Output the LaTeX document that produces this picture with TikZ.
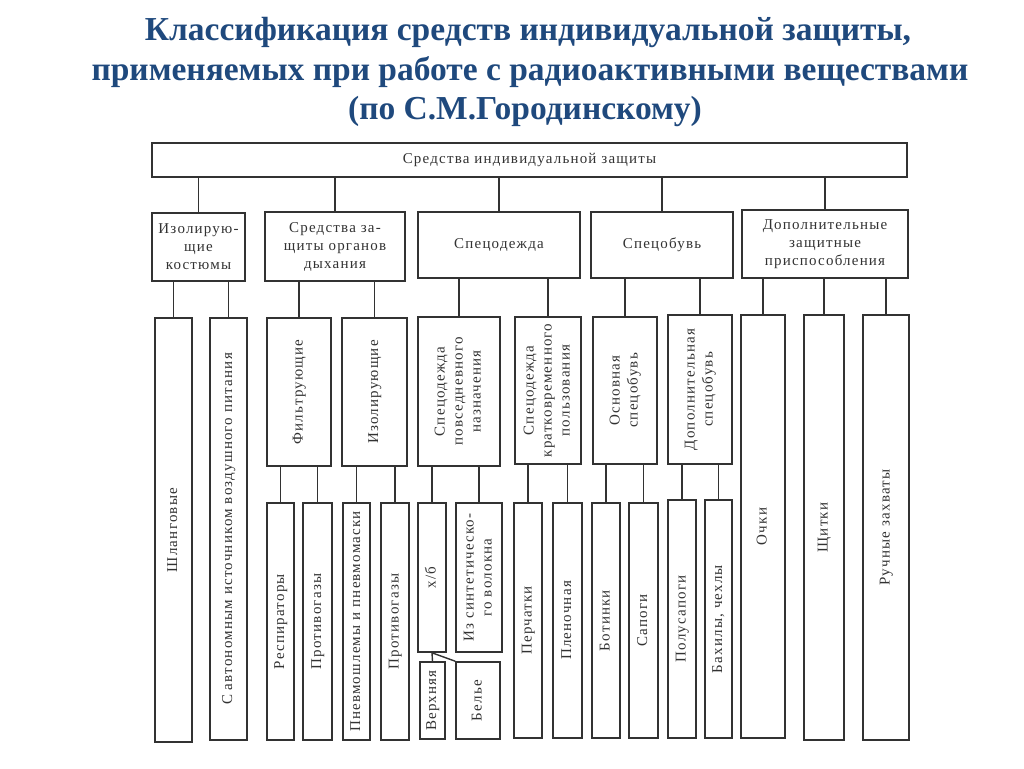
\documentclass[tikz,border=0pt]{standalone}
\usepackage{fontspec}
\setmainfont{Liberation Serif}
\newfontfamily\boxfont[LetterSpace=8]{Liberation Serif}
\usepackage{xcolor}
\definecolor{titleblue}{RGB}{31,73,125}
\definecolor{ink}{RGB}{50,50,50}
\newcommand{\vtext}[1]{\rotatebox{90}{\begin{tabular}{@{}c@{}}#1\end{tabular}}}

\begin{document}
\begin{tikzpicture}[x=1pt,y=-1pt]
\useasboundingbox (0,0) rectangle (1024,768);

\tikzset{box/.style = {draw=ink, line width=1.6pt, inner sep=0pt, align=center, text=ink, font=\boxfont\fontsize{15}{18}\selectfont}}
\tikzset{edge/.style = {draw=ink, line width=1.4pt}}
\tikzset{heading/.style = {text=titleblue, font=\bfseries\fontsize{33.5}{38}\selectfont, anchor=base}}

% title
\node[heading] (t1) at (528,41) {Классификация средств индивидуальной защиты,};
\node[heading] (t2) at (530,81) {применяемых при работе с радиоактивными веществами};
\node[heading] (t3) at (525,119) {(по С.М.Городинскому)};

\node[box, minimum width=755pt, minimum height=34pt] (siz) at (529.5,160) {Средства индивидуальной защиты};

% groups
\node[box, minimum width=93pt, minimum height=68pt] (kost) at (198.5,247) {Изолирую-\\щие\\костюмы};
\node[box, minimum width=140pt, minimum height=69pt] (dyh) at (335,246.5) {Средства за-\\щиты органов\\дыхания};
\node[box, minimum width=162pt, minimum height=66pt] (odezh) at (499,245) {Спецодежда};
\node[box, minimum width=142pt, minimum height=66pt] (obuv) at (662,245) {Спецобувь};
\node[box, minimum width=166pt, minimum height=68pt] (dop) at (825,244) {Дополнительные\\защитные\\приспособления};

% second row
\node[box, minimum width=37pt, minimum height=424pt] (shl) at (173.5,530) {\vtext{Шланговые}};
\node[box, minimum width=37pt, minimum height=422pt] (avt) at (228.5,529) {\vtext{С автономным источником воздушного питания}};
\node[box, minimum width=64pt, minimum height=148pt] (filt) at (299,392) {\vtext{Фильтрующие}};
\node[box, minimum width=65pt, minimum height=148pt] (izol) at (374.5,392) {\vtext{Изолирующие}};
\node[box, minimum width=82pt, minimum height=149pt] (povs) at (459,391.5) {\vtext{Спецодежда\\повседневного\\назначения}};
\node[box, minimum width=66pt, minimum height=147pt] (krat) at (548,390.5) {\vtext{Спецодежда\\кратковременного\\пользования}};
\node[box, minimum width=64pt, minimum height=147pt] (osn) at (625,390.5) {\vtext{Основная\\спецобувь}};
\node[box, minimum width=64pt, minimum height=149pt] (dobuv) at (700,389.5) {\vtext{Дополнительная\\спецобувь}};
\node[box, minimum width=44pt, minimum height=423pt] (ochki) at (763,526.5) {\vtext{Очки}};
\node[box, minimum width=40pt, minimum height=425pt] (shchit) at (824,527.5) {\vtext{Щитки}};
\node[box, minimum width=46pt, minimum height=425pt] (zahv) at (886,527.5) {\vtext{Ручные захваты}};

% third row
\node[box, minimum width=27pt, minimum height=237pt] (resp) at (280.5,621.5) {\vtext{Респираторы}};
\node[box, minimum width=29pt, minimum height=237pt] (prot) at (317.5,621.5) {\vtext{Противогазы}};
\node[box, minimum width=27pt, minimum height=237pt] (pnev) at (356.5,621.5) {\vtext{Пневмошлемы и пневмомаски}};
\node[box, minimum width=28pt, minimum height=237pt] (prot2) at (395,621.5) {\vtext{Противогазы}};
\node[box, minimum width=28pt, minimum height=149pt] (xb) at (432,577.5) {\vtext{х/б}};
\node[box, minimum width=46pt, minimum height=149pt] (sint) at (479,577.5) {\vtext{Из синтетическо-\\го волокна}};
\node[box, minimum width=25pt, minimum height=77pt] (verh) at (432.5,700.5) {\vtext{Верхняя}};
\node[box, minimum width=44pt, minimum height=77pt] (bele) at (478,700.5) {\vtext{Белье}};
\node[box, minimum width=28pt, minimum height=235pt] (perch) at (528,620.5) {\vtext{Перчатки}};
\node[box, minimum width=29pt, minimum height=235pt] (plen) at (567.5,620.5) {\vtext{Пленочная}};
\node[box, minimum width=28pt, minimum height=235pt] (bot) at (606,620.5) {\vtext{Ботинки}};
\node[box, minimum width=29pt, minimum height=235pt] (sap) at (643.5,620.5) {\vtext{Сапоги}};
\node[box, minimum width=28pt, minimum height=238pt] (polu) at (682,619) {\vtext{Полусапоги}};
\node[box, minimum width=27pt, minimum height=238pt] (bah) at (718.5,619) {\vtext{Бахилы, чехлы}};

%edges
\draw[edge] (kost.north) -- (kost.north |- siz.south);
\draw[edge] (dyh.north) -- (dyh.north |- siz.south);
\draw[edge] (odezh.north) -- (odezh.north |- siz.south);
\draw[edge] (obuv.north) -- (obuv.north |- siz.south);
\draw[edge] (dop.north) -- (dop.north |- siz.south);
\draw[edge] (shl.north) -- (shl.north |- kost.south);
\draw[edge] (avt.north) -- (avt.north |- kost.south);
\draw[edge] (filt.north) -- (filt.north |- dyh.south);
\draw[edge] (izol.north) -- (izol.north |- dyh.south);
\draw[edge] (povs.north) -- (povs.north |- odezh.south);
\draw[edge] (krat.north) -- (krat.north |- odezh.south);
\draw[edge] (osn.north) -- (osn.north |- obuv.south);
\draw[edge] (dobuv.north) -- (dobuv.north |- obuv.south);
\draw[edge] (ochki.north) -- (ochki.north |- dop.south);
\draw[edge] (shchit.north) -- (shchit.north |- dop.south);
\draw[edge] (zahv.north) -- (zahv.north |- dop.south);
\draw[edge] (resp.north) -- (resp.north |- filt.south);
\draw[edge] (prot.north) -- (prot.north |- filt.south);
\draw[edge] (pnev.north) -- (pnev.north |- izol.south);
\draw[edge] (prot2.north) -- (prot2.north |- izol.south);
\draw[edge] (xb.north) -- (xb.north |- povs.south);
\draw[edge] (sint.north) -- (sint.north |- povs.south);
\draw[edge] (perch.north) -- (perch.north |- krat.south);
\draw[edge] (plen.north) -- (plen.north |- krat.south);
\draw[edge] (bot.north) -- (bot.north |- osn.south);
\draw[edge] (sap.north) -- (sap.north |- osn.south);
\draw[edge] (polu.north) -- (polu.north |- dobuv.south);
\draw[edge] (bah.north) -- (bah.north |- dobuv.south);
\draw[edge] (xb.south) -- (verh.north);
\draw[edge] (xb.south) -- (bele.north west);
\end{tikzpicture}
\end{document}
